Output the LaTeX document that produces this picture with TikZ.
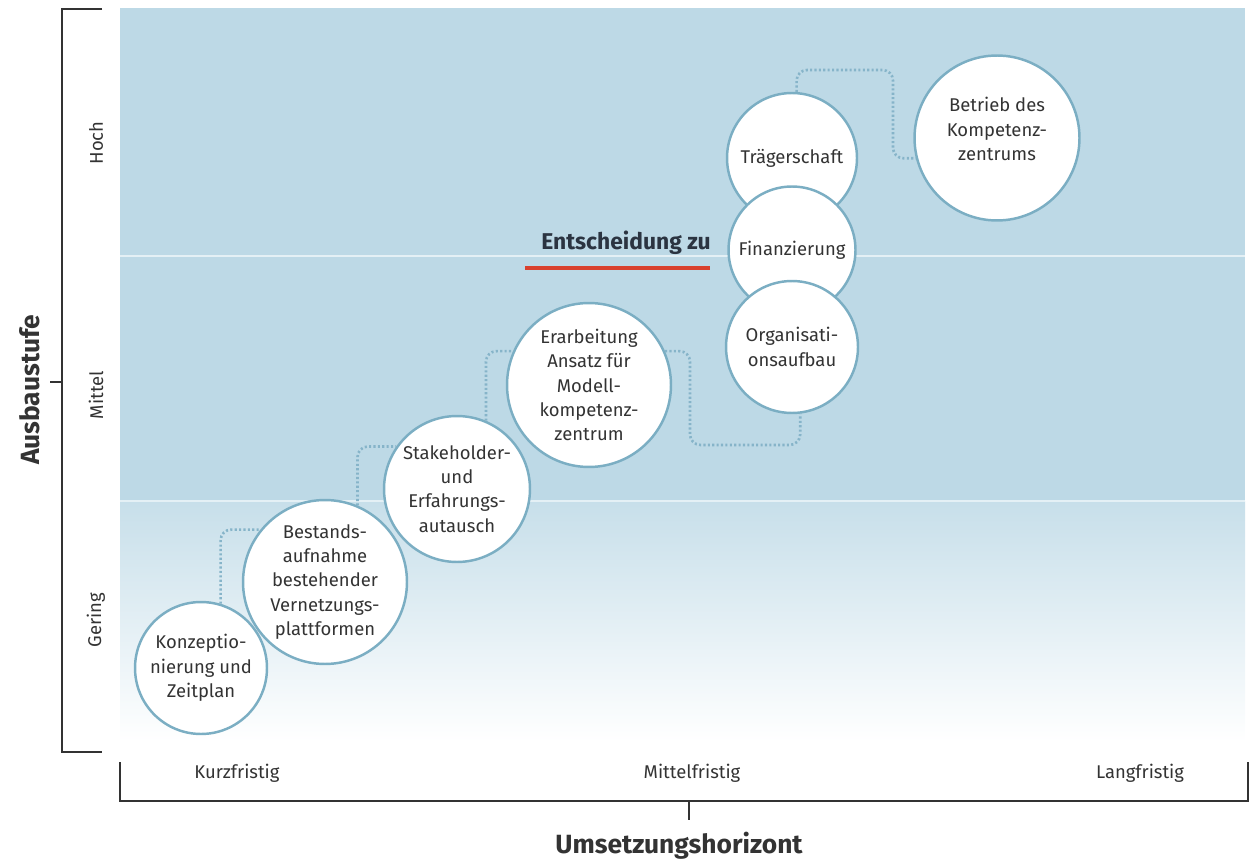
\documentclass[tikz,border=0pt]{standalone}
\usepackage{fontspec}
\setmainfont{Fira Sans}
\definecolor{bgblue}{HTML}{BDD9E6}
\definecolor{circ}{HTML}{7BAEC3}
\definecolor{dotc}{HTML}{86B4C9}
\definecolor{txt}{HTML}{333333}
\definecolor{navy}{HTML}{2B3441}
\definecolor{redl}{HTML}{D9412E}
\definecolor{axis}{HTML}{333333}
\begin{document}
\begin{tikzpicture}[x=0.02cm,y=-0.02cm,
  stage/.style={circle, draw=circ, line width=1.4pt, fill=white, align=center, inner sep=0pt, text=txt, font=\fontsize{10.5}{13.8}\selectfont},
  conn/.style={draw=dotc, line width=1.5pt, dash pattern=on 1.2pt off 1.3pt, rounded corners=6pt},
  axisline/.style={draw=axis, line width=0.9pt},
  ticklabel/.style={text=txt, font=\fontsize{10.5}{12}\selectfont},
  axistitle/.style={text=txt, font=\fontsize{15}{18}\selectfont\bfseries}]
\useasboundingbox (0,0) rectangle (1254,868);
% background
\fill[bgblue] (120,8) rectangle (1245,501);
\shade[top color=bgblue!85!white, bottom color=white] (120,501) rectangle (1245,742);
\draw[white!60!bgblue, line width=1.3pt] (120,256) -- (1245,256);
\draw[white!60!bgblue, line width=1.3pt] (120,501) -- (1245,501);
% y axis
\draw[axisline] (102,9) -- (62,9) -- (62,752) -- (102,752);
\draw[axisline] (50,382) -- (62,382);
\node[axistitle, rotate=90] (ya) at (30,390) {Ausbaustufe};
\node[ticklabel, rotate=90] (hoch) at (96,143) {Hoch};
\node[ticklabel, rotate=90] (mittel) at (96,395) {Mittel};
\node[ticklabel, rotate=90] (gering) at (96,620) {Gering};
% x axis
\draw[axisline] (120,762) -- (120,801) -- (1248,801) -- (1248,762);
\draw[axisline] (689,801) -- (689,820);
\node[axistitle] (xa) at (679,846) {Umsetzungshorizont};
\node[ticklabel] (kurz) at (237,773) {Kurzfristig};
\node[ticklabel] (mittelf) at (692,773) {Mittelfristig};
\node[ticklabel] (lang) at (1140,773) {Langfristig};
% decision label
\node[text=navy, font=\fontsize{13}{15}\selectfont\bfseries] (ent) at (626,243) {Entscheidung zu};
\draw[redl, line width=1.9pt] (525,268) -- (710,268);
% stages
\node[stage, minimum size=2.64cm] (k) at (201,668) {Konzeptio-\\nierung und\\Zeitplan};
\node[stage, minimum size=3.28cm] (b) at (325,582) {Bestands-\\aufnahme\\bestehender\\Vernetzungs-\\plattformen};
\node[stage, minimum size=2.92cm] (s) at (457,489) {Stakeholder-\\und\\Erfahrungs-\\autausch};
\node[stage, minimum size=3.28cm] (e) at (589,385) {Erarbeitung\\Ansatz für\\Modell-\\kompetenz-\\zentrum};
\node[stage, minimum size=2.60cm] (t) at (792,158) {Trägerschaft};
\node[stage, minimum size=2.54cm] (f) at (792,250) {Finanzierung};
\node[stage, minimum size=2.64cm] (o) at (792,347) {Organisati-\\onsaufbau};
\node[stage, minimum size=3.30cm,
  label={[text=txt, font=\fontsize{10.5}{13.8}\selectfont, align=center, yshift=0.18cm]center:Betrieb des\\Kompetenz-\\zentrums}] (bd) at (997,138) {};
% connectors
\coordinate (c1) at (690,445);
\coordinate (c2) at (893,70);
\draw[conn] (k.73) |- (b.141);
\draw[conn] (b.67) |- (s.145);
\draw[conn] (s.67) |- (e.156);
\draw[conn] (e.24) -| (c1) -| (o.277);
\draw[conn] (t.86) |- (c2) |- (bd.194);
\end{tikzpicture}
\end{document}
